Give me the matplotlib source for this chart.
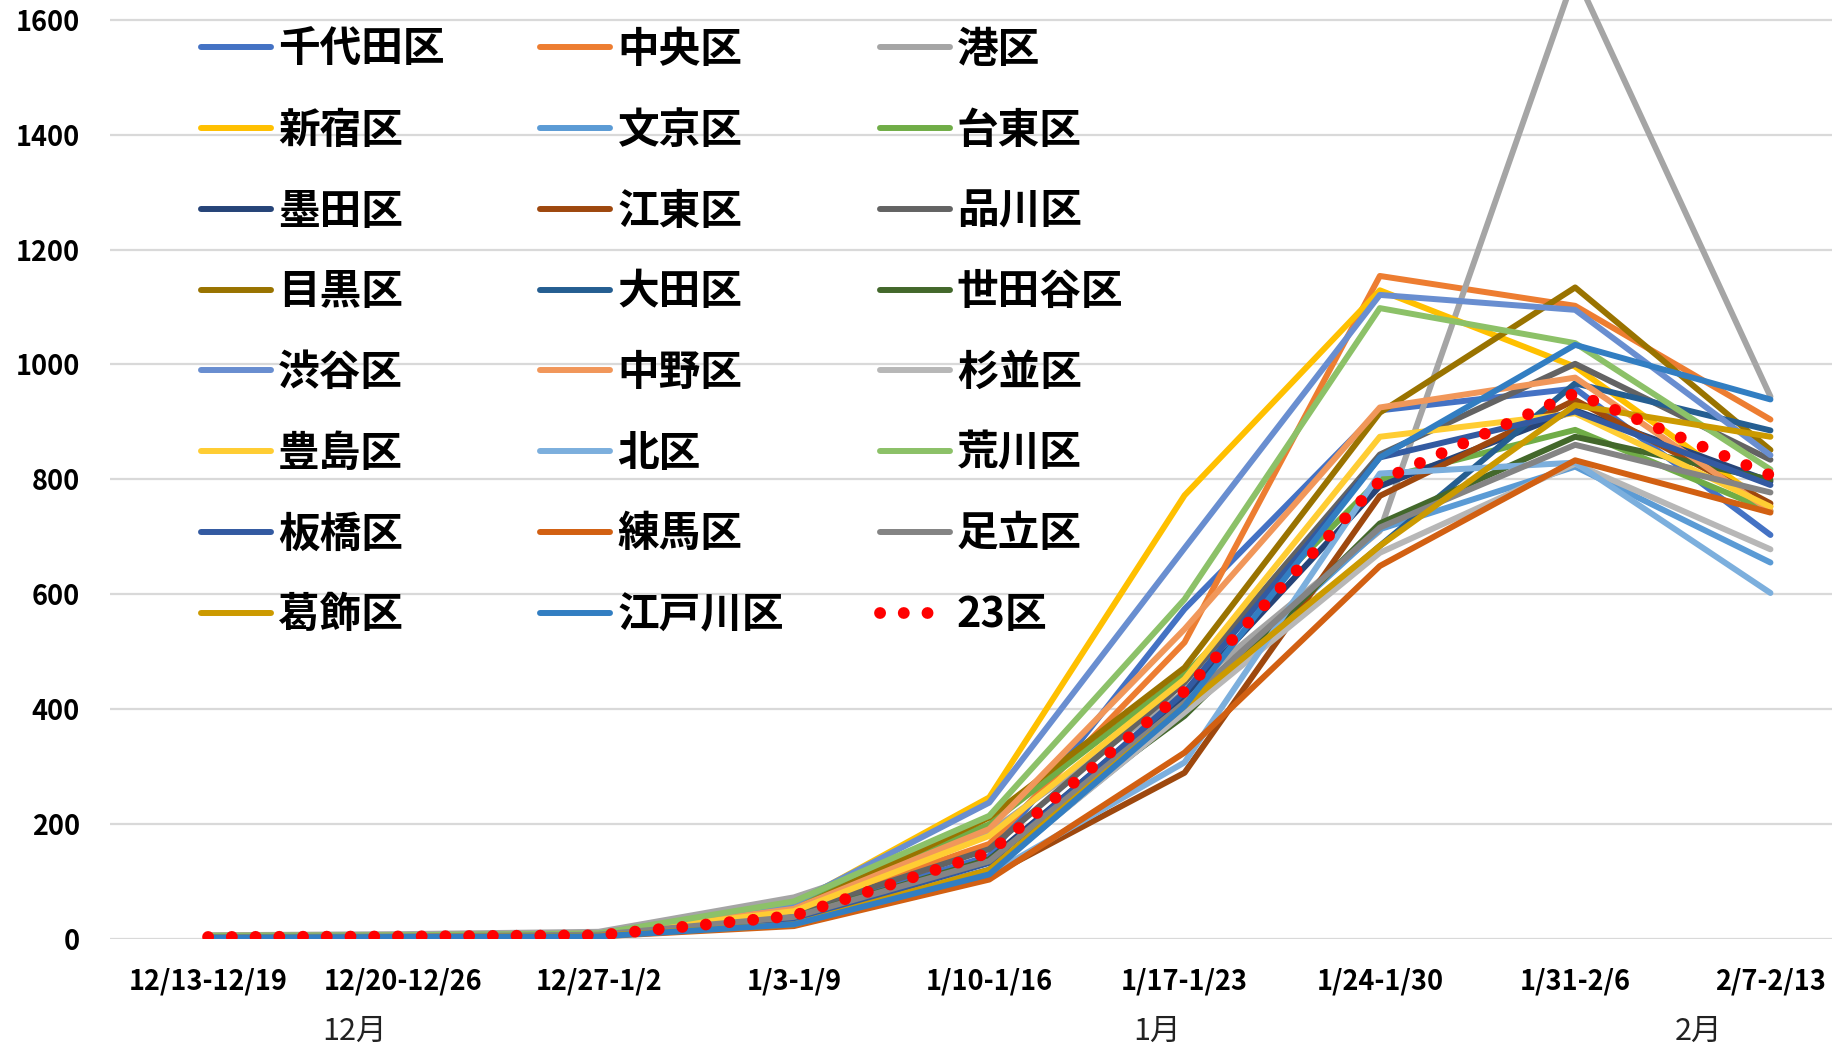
import numpy as np
import matplotlib
matplotlib.use("Agg")
import matplotlib.pyplot as plt

plt.rcParams['font.family'] = ['Noto Sans CJK JP', 'DejaVu Sans']

# weekly periods (x axis)
weeks = ["12/13-12/19", "12/20-12/26", "12/27-1/2", "1/3-1/9", "1/10-1/16",
         "1/17-1/23", "1/24-1/30", "1/31-2/6", "2/7-2/13"]
months = ["12月", "1月", "2月"]

wards = ["千代田区", "中央区", "港区", "新宿区", "文京区", "台東区",
         "墨田区", "江東区", "品川区", "目黒区", "大田区", "世田谷区",
         "渋谷区", "中野区", "杉並区", "豊島区", "北区", "荒川区",
         "板橋区", "練馬区", "足立区", "葛飾区", "江戸川区"]

# values, one list per ward
chiyoda   = [3, 4, 6, 40, 144, 574, 920, 958, 703]
chuo      = [4, 5, 8, 50, 165, 516, 1154, 1102, 904]
minato    = [6, 8, 12, 72, 185, 430, 710, 1680, 944]
shinjuku  = [5, 6, 9, 60, 246, 772, 1129, 996, 753]
bunkyo    = [2, 3, 5, 30, 115, 400, 713, 822, 655]
taito     = [4, 5, 8, 60, 199, 460, 800, 886, 745]
sumida    = [2, 3, 5, 30, 138, 423, 788, 920, 796]
koto      = [2, 3, 5, 28, 109, 289, 771, 938, 758]
shinagawa = [3, 4, 7, 45, 156, 446, 843, 1001, 834]
meguro    = [4, 5, 8, 50, 211, 472, 916, 1134, 851]
ota       = [2, 3, 5, 28, 120, 394, 684, 967, 885]
setagaya  = [3, 4, 6, 38, 138, 388, 723, 874, 799]
shibuya   = [5, 6, 9, 62, 237, 680, 1121, 1095, 842]
nakano    = [4, 5, 8, 52, 191, 539, 925, 977, 745]
suginami  = [3, 4, 6, 35, 118, 394, 672, 827, 678]
toshima   = [4, 5, 8, 48, 179, 452, 874, 915, 752]
kita      = [2, 3, 5, 28, 112, 307, 810, 829, 602]
arakawa   = [5, 6, 9, 65, 214, 591, 1098, 1037, 817]
itabashi  = [2, 3, 5, 32, 132, 429, 838, 918, 790]
nerima    = [2, 3, 4, 22, 103, 324, 649, 833, 742]
adachi    = [3, 4, 7, 38, 135, 411, 716, 860, 777]
katsushika = [2, 3, 5, 25, 120, 405, 684, 929, 874]
edogawa   = [2, 3, 4, 25, 112, 405, 838, 1034, 939]
all23     = [3, 4, 6, 40, 150, 431, 797, 950, 807]

series = [chiyoda, chuo, minato, shinjuku, bunkyo, taito, sumida, koto,
          shinagawa, meguro, ota, setagaya, shibuya, nakano, suginami,
          toshima, kita, arakawa, itabashi, nerima, adachi, katsushika, edogawa]

# Excel default series palette
colors = ['#4472C4', '#ED7D31', '#A5A5A5', '#FFC000', '#5B9BD5', '#70AD47',
          '#264478', '#9E480E', '#636363', '#997300', '#255E91', '#43682B',
          '#698ED0', '#F1975A', '#B7B7B7', '#FFCD33', '#7CAFDD', '#8CC168',
          '#335AA1', '#D26012', '#848484', '#CC9A00', '#327EC2']

W, H = 1833, 1054
fig = plt.figure(figsize=(W / 100, H / 100), dpi=100)
ax = fig.add_axes([110.4 / W, (H - 938.7) / H, 1 - 110.4 / W, 938.7 / H])

x = np.arange(len(weeks))
handles = []
for name, vals, c in zip(wards, series, colors):
    h, = ax.plot(x, vals, color=c, lw=4.3, label=name,
                 solid_joinstyle='round', solid_capstyle='round')
    handles.append(h)
h, = ax.plot(x, all23, color='#FF0000', lw=8.5, linestyle=(0, (0.01, 2.0)),
             dash_capstyle='round', label="23区")
handles.append(h)

ax.set_xlim(-0.5, -0.5 + (W - 110.4) / 195.3)
ax.set_ylim(0, 938.7 / 0.5743)
ax.set_yticks(np.arange(0, 1601, 200))
ax.set_xticks(x)
ax.set_xticklabels(weeks, fontsize=19.5, fontweight='bold')
ax.tick_params(axis='y', labelsize=19.5, length=0, pad=22)
ax.tick_params(axis='x', length=0, pad=21)
for lab in ax.get_yticklabels():
    lab.set_fontweight('bold')
ax.grid(axis='y', color='#D9D9D9', lw=1.6)
ax.set_axisbelow(True)
for s in ax.spines.values():
    s.set_visible(False)

# month group labels under the week labels
for m, xm in zip(months, [0.75, 4.86, 7.63]):
    ax.text(xm, -0.0983, m, transform=ax.get_xaxis_transform(),
            ha='center', va='center', fontsize=22, color='#222222')

# legend: 3 columns filled row by row
n = len(handles)
order = [i for c in range(3) for i in range(c, n, 3)]
leg = ax.legend([handles[i] for i in order], [handles[i].get_label() for i in order],
                ncol=3, loc='upper left', bbox_to_anchor=(201 / W, 1 - 29 / H),
                bbox_transform=fig.transFigure, frameon=False, borderpad=0,
                borderaxespad=0, handlelength=1.68, handletextpad=0.17,
                columnspacing=2.3, labelspacing=0.93,
                prop={'size': 30, 'weight': 'bold'})

fig.savefig("out.png", dpi=100, facecolor='white')
